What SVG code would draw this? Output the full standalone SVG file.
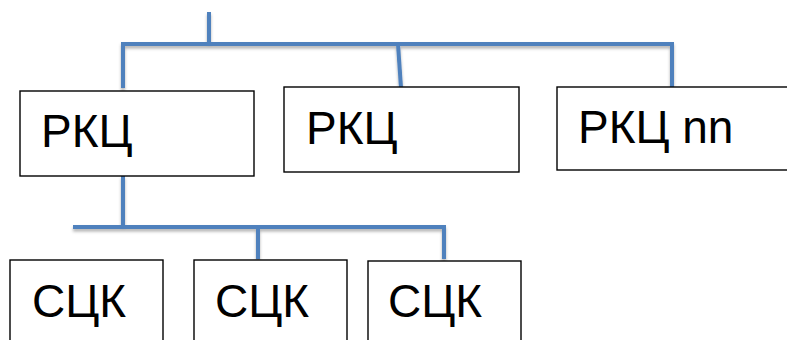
<svg xmlns="http://www.w3.org/2000/svg" width="787" height="340" viewBox="0 0 787 340">
<defs>
<filter id="sh" x="-10%" y="-50%" width="120%" height="300%">
<feDropShadow dx="0" dy="2.5" stdDeviation="1.5" flood-color="#000" flood-opacity="0.3"/>
</filter>
</defs>
<style>
.box{fill:#fff;stroke:#000;stroke-width:1.4}
.lbl{font-family:"Liberation Sans",Arial,sans-serif;font-size:46px;fill:#000}
.conn{fill:none;stroke:#4F81BD;stroke-width:4;stroke-linecap:butt}
</style>
<g id="connectors" filter="url(#sh)">
<path class="conn" d="M209 12 V44"/>
<path class="conn" d="M121 44 H674"/>
<path class="conn" d="M123 44 V88"/>
<path class="conn" d="M398 44 L401 88"/>
<path class="conn" d="M672 44 V87"/>
<path class="conn" d="M123 176 V227"/>
<path class="conn" d="M73 227 H446"/>
<path class="conn" d="M258 227 V259"/>
<path class="conn" d="M444 227 V259"/>
</g>
<g id="rkc1"><rect class="box" x="20" y="91" width="234" height="85"/><text class="lbl" x="41" y="147">РКЦ</text></g>
<g id="rkc2"><rect class="box" x="284" y="87" width="235" height="85"/><text class="lbl" x="306" y="144">РКЦ</text></g>
<g id="rkc3"><rect class="box" x="557" y="87" width="240" height="83"/><text class="lbl" x="578" y="143">РКЦ nn</text></g>
<g id="sck1"><rect class="box" x="10" y="260" width="153" height="90"/><text class="lbl" x="32" y="317">СЦК</text></g>
<g id="sck2"><rect class="box" x="194" y="260" width="153" height="90"/><text class="lbl" x="215" y="317">СЦК</text></g>
<g id="sck3"><rect class="box" x="368" y="261" width="153" height="90"/><text class="lbl" x="388" y="317">СЦК</text></g>
</svg>
